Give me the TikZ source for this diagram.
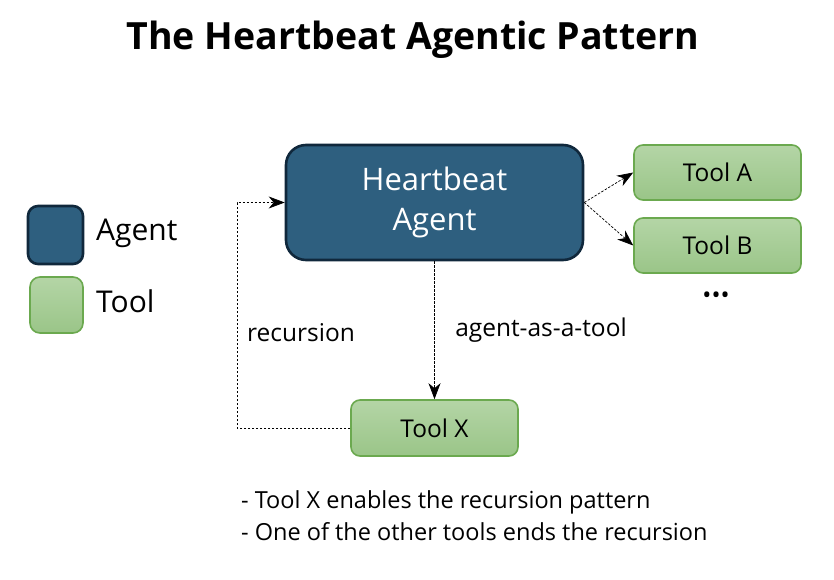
\documentclass[tikz,border=0pt]{standalone}
\usepackage{fontspec}
\setmainfont{Open Sans}
\usetikzlibrary{arrows.meta}
\definecolor{agentfill}{HTML}{2E5F7F}
\definecolor{agentline}{HTML}{10283C}
\definecolor{tooltop}{HTML}{B4D5A6}
\definecolor{toolbot}{HTML}{9AC588}
\definecolor{toolline}{HTML}{6BA94F}
\begin{document}
\begin{tikzpicture}[x=1pt,y=-1pt,
  agentbox/.style={draw=agentline, line width=2.6pt, fill=agentfill, rounded corners=20pt,
    text=white, font=\fontsize{31}{40}\selectfont, align=center, inner sep=0pt},
  toolbox/.style={draw=toolline, line width=1.6pt, rounded corners=9pt,
    top color=tooltop, bottom color=toolbot, font=\fontsize{24.5}{28}\selectfont, inner sep=0pt},
  legagent/.style={draw=agentline, line width=2.6pt, fill=agentfill, rounded corners=10pt,
    minimum width=55pt, minimum height=58pt, inner sep=0pt},
  legtool/.style={draw=toolline, line width=1.6pt, rounded corners=10pt,
    top color=tooltop, bottom color=toolbot, minimum width=53pt, minimum height=56pt, inner sep=0pt},
  conn/.style={draw=black, line width=0.7pt, dash pattern=on 2.5pt off 1.5pt,
    -{Stealth[length=16pt,width=12pt,inset=5pt]}},
  lbl/.style={font=\fontsize{24.5}{28}\selectfont, inner sep=0pt},
  leglbl/.style={font=\fontsize{30}{34}\selectfont, inner sep=0pt, anchor=west}
]
\useasboundingbox (0,0) rectangle (834,580);

\node[font=\bfseries\fontsize{37.5}{42}\selectfont, inner sep=0pt] (title) at (413,40) {The Heartbeat Agentic Pattern};

\node[agentbox, minimum width=297pt, minimum height=115pt] (agent) at (434.5,202.5) {Heartbeat\\Agent};
\node[toolbox, minimum width=167pt, minimum height=55pt] (toola) at (717.5,172.5) {Tool A};
\node[toolbox, minimum width=167pt, minimum height=55pt] (toolb) at (717.5,245.5) {Tool B};
\node[font=\fontsize{24}{26}\selectfont, inner sep=0pt] (dots) at (716,298) {•••};
\node[toolbox, minimum width=167pt, minimum height=56pt] (toolx) at (434.5,428) {Tool X};

\node[legagent] (lega) at (55.5,235) {};
\node[legtool] (legt) at (56.5,305) {};
\node[leglbl] (legal) at (96,233) {Agent};
\node[leglbl] (legtl) at (96,301) {Tool};

\draw[conn] (agent.east) -- (toola.west);
\draw[conn] (agent.east) -- (toolb.west);
\draw[conn] (agent.south) -- (toolx.north);
\draw[conn] (toolx.west) -- ++(-113,0) |- (agent.west);

\node[lbl] (rec) at (301,333) {recursion};
\node[lbl] (aat) at (541,330) {agent-as-a-tool};

\node[lbl, anchor=west, align=left, font=\fontsize{23.5}{32}\selectfont] (notes) at (241,516)
  {- Tool X enables the recursion pattern\\- One of the other tools ends the recursion};
\end{tikzpicture}
\end{document}
